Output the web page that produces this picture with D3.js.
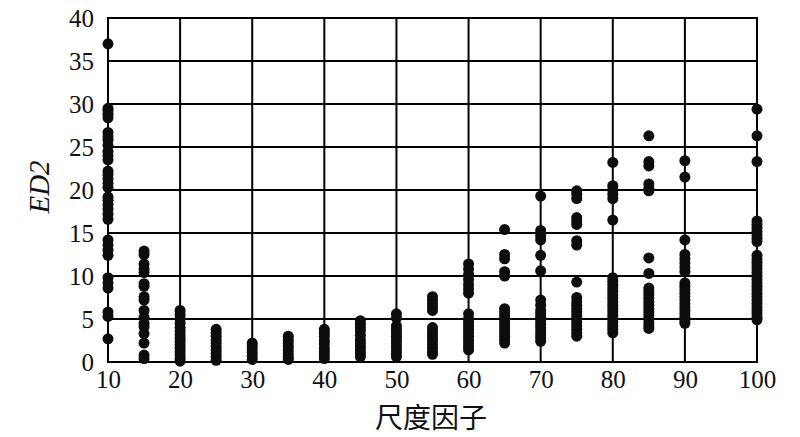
<!DOCTYPE html>
<html>
<head>
<meta charset="utf-8">
<script src="https://cdn.jsdelivr.net/npm/d3@7"></script>
<style>
  html, body { margin: 0; padding: 0; background: #fff; }
  svg { display: block; }
</style>
</head>
<body>
<svg id="chart" width="800" height="437"></svg>
<script>
// ---- data ----
const xTicks = [10, 20, 30, 40, 50, 60, 70, 80, 90, 100];
const yTicks = [0, 5, 10, 15, 20, 25, 30, 35, 40];
const factors = [10, 15, 20, 25, 30, 35, 40, 45, 50, 55, 60, 65, 70, 75, 80, 85, 90, 100];
const ed2_10 = [37.0, 29.5, 29.2, 28.8, 28.4, 26.7, 26.2, 25.8, 25.2, 24.5, 24.0, 23.5, 22.2, 21.8, 21.3, 20.8, 20.3, 19.2, 18.8, 18.3, 17.8, 17.2, 16.6, 14.2, 13.6, 13.0, 12.4, 9.8, 9.2, 8.6, 5.8, 5.3, 2.7];
const ed2_15 = [12.9, 12.5, 11.4, 10.8, 10.4, 9.1, 8.8, 7.6, 7.2, 6.0, 5.2, 4.5, 4.1, 3.3, 2.2, 0.8, 0.4];
const ed2_20 = [6.0, 5.5, 5.0, 4.5, 4.0, 3.6, 3.2, 2.8, 2.4, 2.0, 1.6, 1.2, 0.8, 0.4, 0.1];
const ed2_25 = [3.8, 3.4, 3.0, 2.6, 2.2, 1.8, 1.4, 1.0, 0.6, 0.2];
const ed2_30 = [2.2, 1.9, 1.5, 1.1, 0.7, 0.3];
const ed2_35 = [3.0, 2.6, 2.2, 1.8, 1.4, 1.0, 0.6, 0.3];
const ed2_40 = [3.8, 3.4, 3.0, 2.5, 2.1, 1.6, 1.2, 0.8, 0.4];
const ed2_45 = [4.8, 4.4, 4.0, 3.6, 3.1, 2.6, 2.2, 1.8, 1.4, 1.0, 0.6];
const ed2_50 = [5.6, 5.1, 4.2, 3.8, 3.4, 3.0, 2.6, 2.2, 1.8, 1.4, 1.0, 0.6];
const ed2_55 = [7.6, 7.2, 6.8, 6.4, 6.0, 4.0, 3.6, 3.2, 2.8, 2.4, 2.0, 1.6, 1.2, 0.9];
const ed2_60 = [11.4, 10.8, 10.2, 9.6, 9.0, 8.5, 8.0, 5.6, 5.0, 4.6, 4.2, 3.8, 3.4, 3.0, 2.6, 2.2, 1.8, 1.4];
const ed2_65 = [15.4, 12.5, 12.0, 10.5, 10.0, 6.2, 5.8, 5.4, 5.0, 4.6, 4.2, 3.8, 3.4, 3.0, 2.6, 2.2];
const ed2_70 = [19.3, 15.3, 14.7, 14.2, 12.4, 10.6, 7.2, 6.6, 6.0, 5.6, 5.2, 4.8, 4.4, 4.0, 3.6, 3.2, 2.8, 2.4];
const ed2_75 = [19.9, 19.5, 19.0, 16.8, 16.4, 16.0, 14.1, 13.6, 9.3, 7.5, 7.0, 6.6, 6.2, 5.8, 5.4, 5.0, 4.6, 4.2, 3.8, 3.4, 3.0];
const ed2_80 = [23.2, 20.5, 20.0, 19.5, 19.0, 16.5, 9.8, 9.4, 9.0, 8.6, 8.2, 7.8, 7.4, 7.0, 6.6, 6.2, 5.8, 5.4, 5.0, 4.6, 4.2, 3.8, 3.4];
const ed2_85 = [26.3, 23.3, 22.8, 20.7, 20.2, 19.9, 12.1, 10.3, 8.6, 8.2, 7.8, 7.4, 7.0, 6.6, 6.2, 5.8, 5.4, 5.0, 4.6, 4.2, 3.9];
const ed2_90 = [23.4, 21.5, 14.2, 12.5, 12.0, 11.5, 11.0, 10.5, 9.2, 8.8, 8.4, 8.0, 7.6, 7.2, 6.8, 6.4, 6.0, 5.6, 5.2, 4.8, 4.5];
const ed2_100 = [29.4, 26.3, 23.3, 16.4, 16.0, 15.6, 15.2, 14.8, 14.4, 14.0, 12.4, 12.0, 11.6, 11.2, 10.8, 10.4, 10.0, 9.6, 9.2, 8.8, 8.4, 8.0, 7.6, 7.2, 6.8, 6.4, 6.0, 5.6, 5.2, 4.9];
const ed2Series = [ed2_10, ed2_15, ed2_20, ed2_25, ed2_30, ed2_35, ed2_40, ed2_45, ed2_50, ed2_55, ed2_60, ed2_65, ed2_70, ed2_75, ed2_80, ed2_85, ed2_90, ed2_100];
const xTitle = "尺度因子";
const yTitle = "ED2";

// ---- layout ----
const svg = d3.select("#chart");
const L = 108, R = 757, T = 18, B = 362;
const x = d3.scaleLinear().domain([10, 100]).range([L, R]);
const y = d3.scaleLinear().domain([0, 40]).range([B, T]);

const points = [];
factors.forEach((f, i) => ed2Series[i].forEach(v => points.push({ f, v })));

const grid = svg.append("g").attr("stroke", "#000").attr("stroke-width", 2);
grid.selectAll("line.h").data(yTicks).join("line")
  .attr("x1", L).attr("x2", R)
  .attr("y1", d => y(d)).attr("y2", d => y(d));
grid.selectAll("line.v").data(xTicks).join("line")
  .attr("y1", T).attr("y2", B)
  .attr("x1", d => x(d)).attr("x2", d => x(d));
svg.append("rect").attr("x", L).attr("y", T).attr("width", R - L).attr("height", B - T)
  .attr("fill", "none").attr("stroke", "#000").attr("stroke-width", 2);

svg.append("g").selectAll("circle").data(points).join("circle")
  .attr("cx", d => x(d.f)).attr("cy", d => y(d.v)).attr("r", 5.5)
  .attr("fill", "#0d0d0d");

// axes (labels only)
const font = "'Liberation Serif', 'Times New Roman', serif";
const xAxis = svg.append("g").attr("transform", `translate(0,${B})`)
  .call(d3.axisBottom(x).tickValues(xTicks).tickSize(0).tickPadding(8).tickFormat(d3.format("d")));
xAxis.select(".domain").remove();
xAxis.selectAll("text").attr("font-family", font).attr("font-size", 25).attr("fill", "#111");

const yAxis = svg.append("g").attr("transform", `translate(${L},0)`)
  .call(d3.axisLeft(y).tickValues(yTicks).tickSize(0).tickPadding(14).tickFormat(d3.format("d")));
yAxis.select(".domain").remove();
yAxis.selectAll("text").attr("font-family", font).attr("font-size", 25).attr("fill", "#111");

svg.append("text").text(xTitle)
  .attr("x", 431).attr("y", 428).attr("text-anchor", "middle")
  .attr("font-family", "'Noto Sans CJK SC', sans-serif").attr("font-size", 28).attr("fill", "#111");

svg.append("text").text(yTitle)
  .attr("transform", "translate(49,187) rotate(-90)")
  .attr("text-anchor", "middle").attr("font-family", font).attr("font-style", "italic")
  .attr("font-size", 29).attr("fill", "#111");
</script>
</body>
</html>
